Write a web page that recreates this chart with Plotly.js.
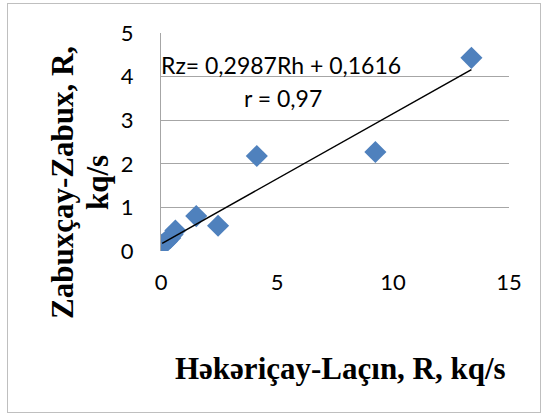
<!DOCTYPE html>
<html>
<head>
<meta charset="utf-8">
<script src="https://cdn.plot.ly/plotly-3.0.1.min.js"></script>
<style>
  html, body { margin:0; padding:0; background:#fff; }
  #wrap { position:relative; width:544px; height:415px; }
  #chart { position:absolute; left:0; top:0; width:544px; height:415px; }
  #frame { position:absolute; left:7px; top:3px; width:532px; height:408px; border:1px solid #bfbfbf; pointer-events:none; }
</style>
</head>
<body>
<div id="wrap"><div id="chart"></div><div id="frame"></div></div>
<script>
// Həkəriçay-Laçın R (x) vs Zabuxçay-Zabux R (y), kq/s
const xHekeri = [0.05, 0.12, 0.25, 0.4, 0.5, 0.62, 1.52, 2.46, 4.13, 9.24, 13.38];
const yZabux  = [0.15, 0.17, 0.22, 0.3, 0.38, 0.47, 0.80, 0.58, 2.18, 2.27, 4.43];
const slope = 0.2987;
const intercept = 0.1616;
const eqText = "Rz= 0,2987Rh + 0,1616";
const rText = "r = 0,97";
const xTitle = "Həkəriçay-Laçın, R, kq/s";
const yTitleLines = ["Zabuxçay-Zabux, R,", "kq/s"];
const xTicks = [0, 5, 10, 15];
const yTicks = [0, 1, 2, 3, 4, 5];

const xMin = Math.min(...xHekeri), xMax = Math.max(...xHekeri);
const trendX = [xMin, xMax];
const trendY = trendX.map(v => slope * v + intercept);

const data = [
  { x: xHekeri, y: yZabux, type: 'scatter', mode: 'markers',
    marker: { symbol: 'diamond', size: 17, color: '#4f81bd' }, hoverinfo: 'skip' },
  { x: trendX, y: trendY, type: 'scatter', mode: 'lines',
    line: { color: '#000', width: 1.5 }, hoverinfo: 'skip' }
];

const sansFam = 'Lato';
const serifFam = 'Liberation Serif';
const tickFont = { family: sansFam, size: 22, color: '#000' };
const titleFont = { family: serifFam, size: 31, color: '#000' };
// pixel helpers for paper coordinates (plot area: left 161, width 348, bottom 251, height 218)
const px = v => (v - 161) / 348;
const py = v => (251 - v) / 218;

const layout = {
  width: 544, height: 415,
  margin: { l: 161, r: 35, t: 33, b: 164 },
  paper_bgcolor: '#fff', plot_bgcolor: '#fff',
  showlegend: false,
  xaxis: { range: [0, 15], tickvals: xTicks, ticktext: xTicks.map(String),
    showgrid: false, zeroline: false, showline: false, ticks: '',
    ticklabelstandoff: 16, tickfont: tickFont, fixedrange: true },
  yaxis: { range: [0, 5], tickvals: yTicks, ticktext: yTicks.map(String),
    showgrid: true, gridcolor: '#a6a6a6', gridwidth: 1, zeroline: false,
    showline: true, linecolor: '#a6a6a6', ticks: '',
    ticklabelstandoff: 22, tickfont: tickFont, fixedrange: true },
  annotations: [
    { text: eqText, xref: 'paper', yref: 'paper', x: px(159), y: py(65),
      xanchor: 'left', yanchor: 'middle', showarrow: false,
      font: { family: sansFam, size: 23, color: '#000' } },
    { text: rText, xref: 'paper', yref: 'paper', x: px(283), y: py(98),
      xanchor: 'center', yanchor: 'middle', showarrow: false,
      font: { family: sansFam, size: 23, color: '#000' } },
    { text: '<b>' + xTitle + '</b>', xref: 'paper', yref: 'paper', x: px(340), y: py(368),
      xanchor: 'center', yanchor: 'middle', showarrow: false, font: titleFont },
    { text: '<b>' + yTitleLines[0] + '</b>', xref: 'paper', yref: 'paper', x: px(62), y: py(183),
      xanchor: 'center', yanchor: 'middle', showarrow: false, textangle: -90, font: titleFont },
    { text: '<b>' + yTitleLines[1] + '</b>', xref: 'paper', yref: 'paper', x: px(97), y: py(183),
      xanchor: 'center', yanchor: 'middle', showarrow: false, textangle: -90, font: titleFont }
  ]
};

Plotly.newPlot('chart', data, layout, { staticPlot: true, displayModeBar: false });
</script>
</body>
</html>
